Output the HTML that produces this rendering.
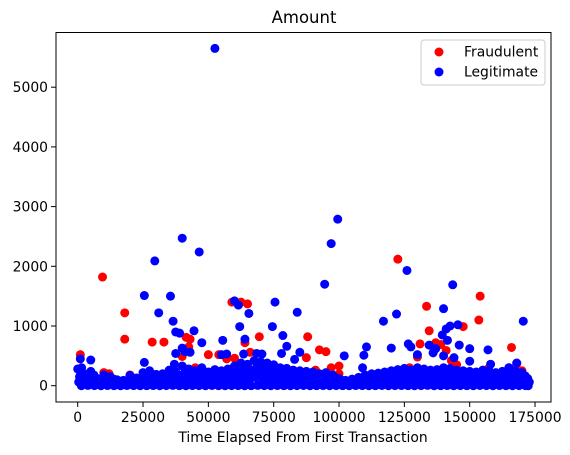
<!DOCTYPE html>
<html><head><meta charset="utf-8"><style>
html,body{margin:0;padding:0;background:#fff;}
svg{display:block;font-family:"DejaVu Sans","Liberation Sans",sans-serif;}
</style></head><body>
<svg id="chart" width="570" height="455" viewBox="0 0 570 455">
<rect x="0" y="0" width="570" height="455" fill="#fff"/>
<text x="304" y="23" text-anchor="middle" font-size="16.5" fill="#000">Amount</text>
<g id="marks"></g>
<rect x="56" y="32.5" width="495" height="369.5" fill="none" stroke="#000" stroke-width="1"/>
<g id="xticks"></g>
<g id="yticks"></g>
<text x="303" y="442" text-anchor="middle" font-size="13.9" fill="#000">Time Elapsed From First Transaction</text>
<g>
<rect x="421" y="40" width="124" height="45" rx="3" fill="#fff" fill-opacity="0.8" stroke="#ccc" stroke-width="1"/>
<circle cx="439" cy="52" r="4.5" fill="#ff0000"/>
<text x="464" y="56.5" font-size="13.9" fill="#000">Fraudulent</text>
<circle cx="439" cy="72" r="4.5" fill="#0000ff"/>
<text x="464" y="76.5" font-size="13.9" fill="#000">Legitimate</text>
</g>
</svg>
<script>
const xTicks = [0,25000,50000,75000,100000,125000,150000,175000];
const yTicks = [0,1000,2000,3000,4000,5000];
const fraudT = [9500,122500,18000,18000,28500,33000,41500,42500,43000,40000,59000,62500,65000,64000,66000,69500,88000,87500,92500,95000,91000,100000,133500,134500,131000,130000,137000,139000,141000,147500,154000,153500,166000,168000,1000,10000,12000,20000,50000,54000,57000,60000,100000,108000,3000,6000,15000,24000,30000,45000,70000,82000,97000,112000,118000,127000,145000,160000,170000,143000,157000,169000];
const fraudA = [1820,2120,1220,780,730,730,810,650,780,490,1400,1400,1370,720,560,820,820,470,600,570,260,330,1330,920,700,480,720,690,590,990,1500,1100,640,370,520,220,200,180,520,520,450,460,200,100,120,80,60,40,150,300,350,250,300,60,120,300,350,150,250,420,280,200];
const legitT = [52500,99500,97000,40000,46500,29500,126000,143500,94500,25500,35500,60000,61500,75500,140000,31000,65500,122000,117000,170500,36500,142500,145500,62000,74500,141000,37500,39000,44500,47500,55500,64000,78500,84000,80000,85000,102000,109500,110500,109000,120000,134500,137000,146000,150000,157000,150000,158000,165000,168000,1000,5000,1500,25500,37000,41000,43000,40000,37500,55000,57000,63500,68500,70500,78000,83000,130000,136000,140000,144000,126500,127500,139500,141500];
const legitA = [5650,2790,2380,2470,2240,2090,1930,1690,1700,1510,1500,1420,1350,1400,1290,1220,1210,1200,1080,1080,1080,1000,1020,990,990,950,900,880,920,720,760,780,840,1230,660,560,500,510,650,300,630,680,620,680,620,600,410,360,300,380,450,430,300,390,360,570,560,630,540,520,530,530,540,530,540,440,520,550,500,470,700,650,850,760];
const bandT = [0,2500,5000,7500,10000,12500,15000,17500,20000,22500,25000,27500,30000,32500,35000,37500,40000,42500,45000,47500,50000,52500,55000,57500,60000,62500,65000,67500,70000,72500,75000,77500,80000,82500,85000,87500,90000,92500,95000,97500,100000,102500,105000,107500,110000,112500,115000,117500,120000,122500,125000,127500,130000,132500,135000,137500,140000,142500,145000,147500,150000,152500,155000,157500,160000,162500,165000,167500,170000,171000];
const bandHi = [280,200,240,120,180,150,100,90,170,130,220,250,190,200,260,240,330,280,250,300,230,270,250,280,330,380,360,420,400,380,350,300,290,260,250,240,230,200,220,180,120,90,110,140,180,200,210,230,250,270,290,260,300,280,260,270,300,290,260,250,240,230,260,250,220,240,300,250,220,160];
const bandMid = [150,120,130,70,110,90,60,50,100,80,140,160,120,130,170,150,200,180,160,190,150,170,160,180,220,250,240,280,260,250,230,200,190,170,160,150,150,130,140,110,70,50,60,80,110,130,140,150,160,180,190,170,200,180,170,180,200,190,170,160,150,150,170,160,140,150,190,160,140,100];
const bandLo = [60,40,50,20,40,30,20,15,40,30,60,70,50,60,80,70,90,80,70,90,70,80,70,90,110,120,110,140,130,120,110,100,90,80,80,70,70,60,70,50,30,20,25,35,50,60,60,70,80,90,90,80,100,90,80,90,100,90,80,80,70,70,80,80,60,70,90,80,60,40];
const bandZero = [0,5,2,0,3,1,0,4,2,0,1,3,0,2,5,1,0,3,2,0,4,1,0,2,3,0,1,5,2,0,3,1,0,2,4,0,1,3,0,2,1,0,3,2,0,1,4,0,2,3,1,0,2,5,0,1,3,0,2,1,0,4,2,0,3,1,0,2,1,0];

const NS = "http://www.w3.org/2000/svg";
function sx(t){ return 77.7 + t * 0.0026133; }
function sy(v){ return 385.7 - v * 0.0597; }
const marks = document.getElementById('marks');
function dot(t, a, color, name){
  const c = document.createElementNS(NS, 'circle');
  c.setAttribute('cx', sx(t));
  c.setAttribute('cy', sy(a));
  c.setAttribute('r', 4.5);
  c.setAttribute('fill', color);
  
  
  marks.appendChild(c);
}
for (let i = 0; i < fraudT.length; i++) dot(fraudT[i], fraudA[i], '#ff0000', 'fraud-point');
for (let i = 0; i < bandT.length; i++) {
  dot(bandT[i], bandHi[i], '#0000ff', 'legit-point');
  dot(bandT[i] + 1200, bandHi[i] * 0.75, '#0000ff', 'legit-point');
  dot(bandT[i] + 700, bandMid[i], '#0000ff', 'legit-point');
  dot(bandT[i] + 1800, bandMid[i] * 0.6, '#0000ff', 'legit-point');
  dot(bandT[i] + 400, bandLo[i], '#0000ff', 'legit-point');
  dot(bandT[i] + 1400, bandZero[i], '#0000ff', 'legit-point');
}
for (let i = 0; i < legitT.length; i++) dot(legitT[i], legitA[i], '#0000ff', 'legit-point');

const xg = document.getElementById('xticks');
xTicks.forEach(function(t){
  const l = document.createElementNS(NS, 'line');
  l.setAttribute('x1', sx(t)); l.setAttribute('x2', sx(t));
  l.setAttribute('y1', 402); l.setAttribute('y2', 407);
  l.setAttribute('stroke', '#000');
  
  
  xg.appendChild(l);
  const tx = document.createElementNS(NS, 'text');
  tx.setAttribute('x', sx(t)); tx.setAttribute('y', 422);
  tx.setAttribute('text-anchor', 'middle'); tx.setAttribute('font-size', '13.9');
  
  
  tx.textContent = String(t);
  xg.appendChild(tx);
});
const yg = document.getElementById('yticks');
yTicks.forEach(function(v){
  const l = document.createElementNS(NS, 'line');
  l.setAttribute('x1', 51); l.setAttribute('x2', 56);
  l.setAttribute('y1', sy(v)); l.setAttribute('y2', sy(v));
  l.setAttribute('stroke', '#000');
  
  
  yg.appendChild(l);
  const tx = document.createElementNS(NS, 'text');
  tx.setAttribute('x', 48); tx.setAttribute('y', sy(v) + 5);
  tx.setAttribute('text-anchor', 'end'); tx.setAttribute('font-size', '13.9');
  
  
  tx.textContent = String(v);
  yg.appendChild(tx);
});
</script>
</body></html>
